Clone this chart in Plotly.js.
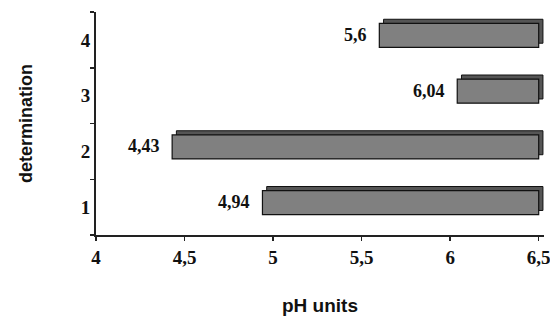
<!DOCTYPE html>
<html>
<head>
<meta charset="utf-8">
<script src="https://cdn.plot.ly/plotly-3.0.1.min.js"></script>
<style>html,body{margin:0;padding:0;background:#fff;}#chart{width:550px;height:316px;}</style>
</head>
<body>
<div id="chart"></div>
<script>
// Data
const categories = ["1", "2", "3", "4"];
const phValues = [4.94, 4.43, 6.04, 5.6];
const valueLabels = ["4,94", "4,43", "6,04", "5,6"];
const axisEnd = 6.5;
const xTickVals = [4, 4.5, 5, 5.5, 6, 6.5];
const xTickText = ["4", "4,5", "5", "5,5", "6", "6,5"];

// Style
const barWidth = 0.43;
const barShift = 0.08;  // bars sit slightly above category centre
const depthX = 0.024;   // 3D depth in x units
const depthY = 0.075;   // 3D depth in category units
const serif = "Liberation Serif, Times New Roman, serif";
const sans = "Liberation Sans, Arial, sans-serif";

const lengths = phValues.map(v => axisEnd - v);

const backBar = {
  type: "bar", orientation: "h",
  y: categories, x: lengths,
  base: phValues.map(v => v + depthX),
  width: barWidth, offset: -barWidth / 2 + barShift + depthY,
  marker: { color: "#555555", line: { color: "#111111", width: 1 } },
  hoverinfo: "skip", showlegend: false
};
const frontBar = {
  type: "bar", orientation: "h",
  y: categories, x: lengths, base: phValues,
  width: barWidth, offset: -barWidth / 2 + barShift,
  marker: { color: "#808080", line: { color: "#111111", width: 1.2 } },
  showlegend: false
};

const annotations = phValues.map((v, i) => ({
  x: v, y: i, xref: "x", yref: "y",
  text: "<b>" + valueLabels[i] + "</b>", showarrow: false,
  xanchor: "right", xshift: -10, yshift: 5,
  font: { family: serif, size: 18, color: "#111" }
}));

const layout = {
  width: 550, height: 316,
  margin: { l: 96, r: 6, t: 12, b: 81 },
  paper_bgcolor: "#ffffff", plot_bgcolor: "#ffffff",
  barmode: "overlay",
  xaxis: {
    range: [4, 6.53],
    tickvals: xTickVals, ticktext: xTickText,
    ticklabeloverflow: "allow",
    ticks: "outside", ticklen: 4, tickwidth: 1.5, tickcolor: "#222",
    showline: true, linecolor: "#222", linewidth: 2,
    showgrid: false, zeroline: false,
    tickfont: { family: serif, size: 19, color: "#111", weight: "bold" },
    title: { text: "<b>pH units</b>", font: { family: sans, size: 19, color: "#111" }, standoff: 34 }
  },
  yaxis: {
    type: "category", range: [-0.5, 3.5],
    tickson: "boundaries",
    ticks: "outside", ticklen: 4, tickwidth: 1.5, tickcolor: "#222",
    showline: true, linecolor: "#222", linewidth: 2,
    showgrid: false, zeroline: false,
    tickfont: { family: serif, size: 19, color: "#111", weight: "bold" },
    title: { text: "<b>determination</b>", font: { family: sans, size: 18, color: "#111" }, standoff: 43 }
  },
  annotations: annotations
};

Plotly.newPlot("chart", [backBar, frontBar], layout, { displayModeBar: false, staticPlot: true });
</script>
</body>
</html>
